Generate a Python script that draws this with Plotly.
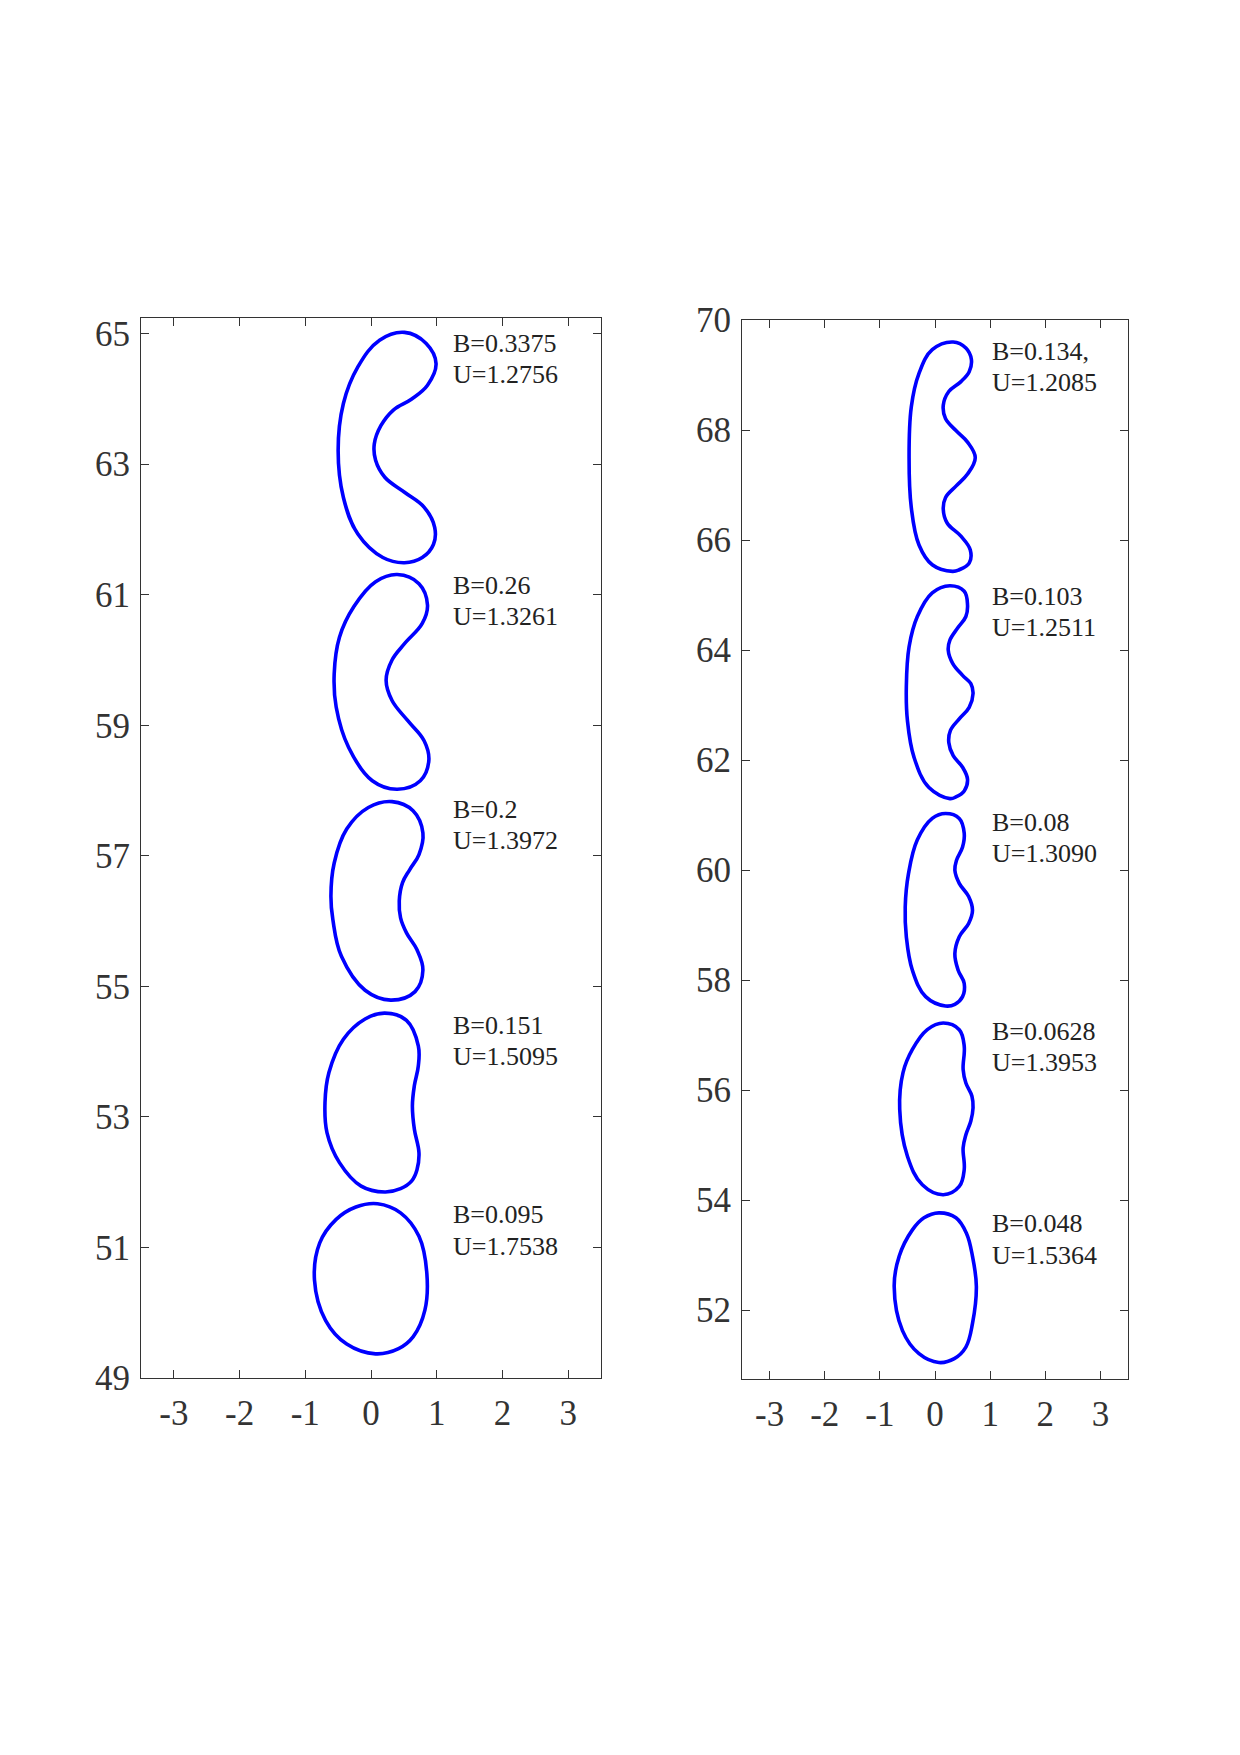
import plotly.graph_objects as go

# ---------------- data ----------------
# Left panel shapes
L1_x = [-0.50, -0.42, -0.20, 0.13, 0.51, 0.84, 0.99, 0.86, 0.62, 0.34, 0.15, 0.05, 0.07, 0.21, 0.51, 0.81, 0.97, 0.95, 0.78, 0.51, 0.18, -0.20, -0.42, -0.50]
L1_y = [63.21, 63.93, 64.49, 64.90, 65.02, 64.85, 64.54, 64.21, 64.00, 63.83, 63.59, 63.31, 63.06, 62.80, 62.57, 62.34, 62.03, 61.77, 61.57, 61.49, 61.57, 61.93, 62.49, 63.21]

L2_x = [-0.56, -0.48, -0.26, 0.07, 0.40, 0.73, 0.86, 0.78, 0.51, 0.32, 0.23, 0.32, 0.56, 0.81, 0.88, 0.75, 0.40, 0.02, -0.34, -0.53, -0.56]
L2_y = [59.79, 60.35, 60.82, 61.20, 61.31, 61.17, 60.84, 60.56, 60.25, 60.00, 59.69, 59.38, 59.07, 58.76, 58.46, 58.15, 58.02, 58.15, 58.66, 59.28, 59.79]

L3_x = [-0.61, -0.56, -0.37, -0.04, 0.32, 0.64, 0.79, 0.73, 0.59, 0.48, 0.43, 0.45, 0.54, 0.70, 0.79, 0.67, 0.30, -0.09, -0.45, -0.58, -0.61]
L3_y = [56.38, 56.89, 57.41, 57.74, 57.83, 57.69, 57.35, 57.02, 56.79, 56.59, 56.31, 56.05, 55.82, 55.56, 55.25, 54.92, 54.79, 54.94, 55.46, 56.02, 56.38]

L4_x = [-0.70, -0.64, -0.42, -0.09, 0.21, 0.54, 0.72, 0.72, 0.66, 0.63, 0.66, 0.73, 0.70, 0.62, 0.45, 0.21, -0.15, -0.48, -0.67, -0.70]
L4_y = [53.22, 53.68, 54.19, 54.50, 54.59, 54.48, 54.09, 53.78, 53.48, 53.17, 52.81, 52.45, 52.19, 52.02, 51.90, 51.85, 51.94, 52.30, 52.76, 53.22]

L5_x = [-0.86, -0.78, -0.53, -0.23, 0.10, 0.45, 0.73, 0.85, 0.82, 0.64, 0.42, 0.07, -0.37, -0.69, -0.86]
L5_y = [50.50, 51.07, 51.43, 51.62, 51.67, 51.53, 51.17, 50.60, 50.04, 49.63, 49.45, 49.37, 49.52, 49.88, 50.50]

# Right panel shapes
R1_x = [-0.47, -0.43, -0.29, -0.05, 0.33, 0.56, 0.66, 0.62, 0.47, 0.25, 0.15, 0.19, 0.38, 0.59, 0.73, 0.59, 0.38, 0.19, 0.15, 0.22, 0.47, 0.64, 0.62, 0.44, 0.32, -0.05, -0.29, -0.43, -0.47]
R1_y = [67.50, 68.42, 69.03, 69.46, 69.60, 69.49, 69.28, 69.06, 68.88, 68.70, 68.45, 68.21, 67.99, 67.78, 67.50, 67.20, 66.98, 66.77, 66.56, 66.31, 66.07, 65.82, 65.58, 65.46, 65.43, 65.55, 65.91, 66.59, 67.50]

R2_x = [-0.52, -0.47, -0.32, -0.05, 0.27, 0.53, 0.59, 0.56, 0.41, 0.27, 0.24, 0.32, 0.50, 0.65, 0.69, 0.62, 0.44, 0.28, 0.25, 0.33, 0.50, 0.59, 0.53, 0.38, 0.27, -0.11, -0.38, -0.50, -0.52]
R2_y = [63.33, 64.06, 64.61, 65.04, 65.17, 65.07, 64.82, 64.61, 64.40, 64.18, 64.00, 63.76, 63.54, 63.39, 63.21, 62.96, 62.75, 62.54, 62.32, 62.08, 61.87, 61.65, 61.44, 61.33, 61.30, 61.50, 62.05, 62.72, 63.33]

R3_x = [-0.54, -0.48, -0.32, -0.05, 0.19, 0.44, 0.53, 0.50, 0.39, 0.36, 0.44, 0.61, 0.68, 0.61, 0.44, 0.36, 0.42, 0.53, 0.50, 0.36, 0.19, -0.17, -0.41, -0.52, -0.54]
R3_y = [59.33, 59.94, 60.55, 60.94, 61.03, 60.94, 60.67, 60.42, 60.18, 60.00, 59.76, 59.52, 59.27, 59.03, 58.79, 58.48, 58.18, 57.94, 57.70, 57.56, 57.53, 57.70, 58.18, 58.79, 59.33]

R4_x = [-0.64, -0.58, -0.41, -0.14, 0.15, 0.44, 0.53, 0.51, 0.56, 0.67, 0.69, 0.65, 0.56, 0.51, 0.53, 0.44, 0.15, -0.23, -0.50, -0.64]
R4_y = [55.65, 56.32, 56.74, 57.10, 57.22, 57.10, 56.80, 56.38, 56.13, 55.89, 55.68, 55.44, 55.19, 54.95, 54.56, 54.25, 54.10, 54.28, 54.80, 55.65]

R5_x = [-0.74, -0.65, -0.41, -0.20, 0.07, 0.38, 0.57, 0.68, 0.75, 0.68, 0.56, 0.35, 0.07, -0.29, -0.59, -0.74]
R5_y = [52.43, 52.98, 53.46, 53.68, 53.77, 53.68, 53.40, 52.98, 52.43, 51.76, 51.33, 51.12, 51.05, 51.21, 51.63, 52.43]

# Labels
left_B = ["B=0.3375", "B=0.26", "B=0.2", "B=0.151", "B=0.095"]
left_U = ["U=1.2756", "U=1.3261", "U=1.3972", "U=1.5095", "U=1.7538"]
left_label_x = 1.22
left_B_y = [64.85, 61.14, 57.71, 54.40, 51.50]
left_U_y = [64.37, 60.66, 57.23, 53.92, 51.02]

right_B = ["B=0.134,", "B=0.103", "B=0.08", "B=0.0628", "B=0.048"]
right_U = ["U=1.2085", "U=1.2511", "U=1.3090", "U=1.3953", "U=1.5364"]
right_label_x = 1.0
right_B_y = [69.43, 64.98, 60.87, 57.07, 53.57]
right_U_y = [68.86, 64.41, 60.30, 56.50, 53.00]

x_ticks = [-3, -2, -1, 0, 1, 2, 3]
left_y_ticks = [49, 51, 53, 55, 57, 59, 61, 63, 65]
right_y_ticks = [52, 54, 56, 58, 60, 62, 64, 66, 68, 70]

# ---------------- figure ----------------
fig = go.Figure()
BLUE = "#0000FF"
line_style = dict(color=BLUE, width=3.6, shape="spline", smoothing=1.1)

for xs, ys in [(L1_x, L1_y), (L2_x, L2_y), (L3_x, L3_y), (L4_x, L4_y), (L5_x, L5_y)]:
    fig.add_trace(go.Scatter(x=xs, y=ys, mode="lines", line=line_style,
                             xaxis="x", yaxis="y", showlegend=False, hoverinfo="skip"))
for xs, ys in [(R1_x, R1_y), (R2_x, R2_y), (R3_x, R3_y), (R4_x, R4_y), (R5_x, R5_y)]:
    fig.add_trace(go.Scatter(x=xs, y=ys, mode="lines", line=line_style,
                             xaxis="x2", yaxis="y2", showlegend=False, hoverinfo="skip"))

FONT = "Liberation Serif, Times New Roman, serif"
AX = "#333333"
tickfont = dict(family=FONT, size=35, color="#333333")
common = dict(showline=True, mirror="ticks", linecolor=AX, linewidth=1.2,
              ticks="inside", ticklen=8, tickwidth=1.2, tickcolor=AX,
              showgrid=False, zeroline=False, tickfont=tickfont)

W, H = 1240, 1755
def dx(px):
    return px / W
def dy(py):
    return (H - py) / H

annotations = []
txtfont = dict(family=FONT, size=26, color="#222222")
for t, yv in zip(left_B + left_U, left_B_y + left_U_y):
    annotations.append(dict(x=left_label_x, y=yv, xref="x", yref="y", text=t,
                            showarrow=False, xanchor="left", yanchor="middle", font=txtfont))
for t, yv in zip(right_B + right_U, right_B_y + right_U_y):
    annotations.append(dict(x=right_label_x, y=yv, xref="x2", yref="y2", text=t,
                            showarrow=False, xanchor="left", yanchor="middle", font=txtfont))

fig.update_layout(
    width=W, height=H,
    margin=dict(l=0, r=0, t=0, b=0),
    paper_bgcolor="white", plot_bgcolor="white",
    template="none",
    showlegend=False,
    xaxis=dict(domain=[dx(141), dx(601)], range=[-3.5, 3.5], tickvals=x_ticks,
               ticktext=[str(v) for v in x_ticks], anchor="y", ticklabelstandoff=4, **common),
    yaxis=dict(domain=[dy(1378), dy(318)], range=[49, 65.24], tickvals=left_y_ticks,
               anchor="x", ticklabelstandoff=3, **common),
    xaxis2=dict(domain=[dx(742), dx(1128)], range=[-3.5, 3.5], tickvals=x_ticks,
                ticktext=[str(v) for v in x_ticks], anchor="y2", ticklabelstandoff=4, **common),
    yaxis2=dict(domain=[dy(1379), dy(320)], range=[50.75, 70.0], tickvals=right_y_ticks,
                anchor="x2", ticklabelstandoff=3, **common),
    annotations=annotations,
)

fig.write_html("out.html")
